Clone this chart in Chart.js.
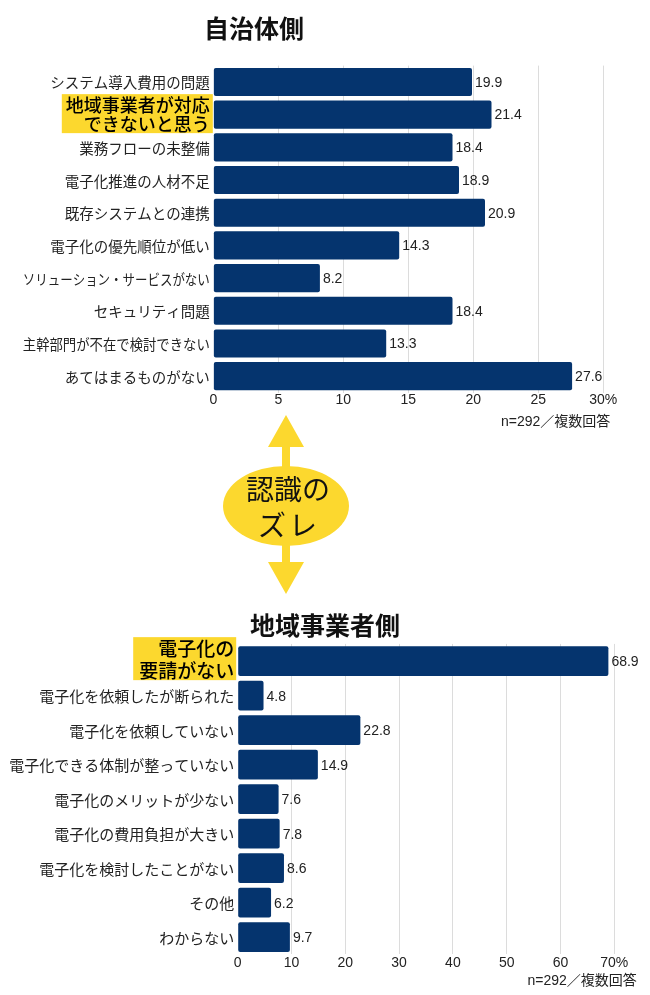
<!DOCTYPE html>
<html lang="ja">
<head>
<meta charset="utf-8">
<script src="https://cdn.jsdelivr.net/npm/chart.js@4.4.1/dist/chart.umd.min.js"></script>
<style>
  html, body { margin: 0; padding: 0; background: #fff; }
  body { width: 650px; height: 995px; position: relative; overflow: hidden; }
  .box { position: absolute; left: 0; width: 650px; }
  #topBox { top: 0; height: 430px; }
  #bottomBox { top: 600px; height: 395px; }
  #gap { position: absolute; left: 0; top: 400px; }
</style>
</head>
<body>
<div class="box" id="topBox"><canvas id="chartTop"></canvas></div>
<div class="box" id="bottomBox"><canvas id="chartBottom"></canvas></div>
<svg id="gap" width="650" height="200" viewBox="0 0 650 200">
  <g fill="#fcd82e">
    <polygon points="286,15 268,47 304,47"/>
    <rect x="282" y="46" width="8" height="26"/>
    <ellipse cx="286" cy="106" rx="63" ry="40"/>
    <rect x="282" y="140" width="8" height="23"/>
    <polygon points="268,162 304,162 286,194"/>
  </g>
  <g font-family="'Noto Sans CJK JP', sans-serif" font-size="28" font-weight="400" fill="#111" text-anchor="middle">
    <text x="288" y="100">認識の</text>
    <text x="289" y="136" letter-spacing="3">ズレ</text>
  </g>
</svg>
<script>
const JP = '"Noto Sans CJK JP", sans-serif';
const NUM = '"Liberation Sans", Arial, "Noto Sans CJK JP", sans-serif';
const BAR_COLOR = '#05346e';
const HILITE = '#fcd82e';

// 自治体側
const topLabels = [
  "システム導入費用の問題",
  ["地域事業者が対応", "できないと思う"],
  "業務フローの未整備",
  "電子化推進の人材不足",
  "既存システムとの連携",
  "電子化の優先順位が低い",
  "ソリューション・サービスがない",
  "セキュリティ問題",
  "主幹部門が不在で検討できない",
  "あてはまるものがない"
];
const topValues = [19.9, 21.4, 18.4, 18.9, 20.9, 14.3, 8.2, 18.4, 13.3, 27.6];
const topMax = 30;
const topStep = 5;

// 地域事業者側
const bottomLabels = [
  ["電子化の", "要請がない"],
  "電子化を依頼したが断られた",
  "電子化を依頼していない",
  "電子化できる体制が整っていない",
  "電子化のメリットが少ない",
  "電子化の費用負担が大きい",
  "電子化を検討したことがない",
  "その他",
  "わからない"
];
const bottomValues = [68.9, 4.8, 22.8, 14.9, 7.6, 7.8, 8.6, 6.2, 9.7];
const bottomMax = 70;
const bottomStep = 10;

const noteText = "n=292／複数回答";

const valueLabels = {
  id: 'valueLabels',
  afterDatasetsDraw(chart) {
    const ctx = chart.ctx;
    const meta = chart.getDatasetMeta(0);
    const data = chart.data.datasets[0].data;
    ctx.save();
    ctx.font = '14px ' + NUM;
    ctx.fillStyle = '#222';
    ctx.textBaseline = 'middle';
    ctx.textAlign = 'left';
    meta.data.forEach((bar, i) => {
      ctx.fillText(data[i].toFixed(1), bar.x + 3, bar.y + 1);
    });
    ctx.restore();
  }
};

// category labels drawn at the y scale's pixel for each category
const categoryLabels = {
  id: 'categoryLabels',
  afterDraw(chart, args, opts) {
    const ctx = chart.ctx;
    const yScale = chart.scales.y;
    const x = yScale.right - opts.gap;
    ctx.save();
    ctx.textAlign = 'right';
    ctx.textBaseline = 'middle';
    chart.data.labels.forEach((label, i) => {
      const y = yScale.getPixelForValue(i);
      if (i === opts.highlight) {
        const lines = [].concat(label);
        ctx.font = '500 ' + opts.hiSize + 'px ' + JP;
        const w = Math.max(...lines.map((s) => ctx.measureText(s).width));
        const h = lines.length * opts.hiLine;
        const top = y - h / 2 + opts.hiShift;
        ctx.fillStyle = HILITE;
        ctx.fillRect(x - w - opts.hiPadL, top, w + opts.hiPadL + opts.hiPadR, h);
        ctx.fillStyle = '#000';
        lines.forEach((s, k) => ctx.fillText(s, x, top + opts.hiLine * (k + 0.5) + 1));
      } else {
        ctx.font = opts.size + 'px ' + JP;
        ctx.fillStyle = '#222';
        ctx.fillText(label, x, y + 1, opts.maxWidth);
      }
    });
    ctx.restore();
  }
};

const headings = {
  id: 'headings',
  afterDraw(chart, args, opts) {
    const ctx = chart.ctx;
    ctx.save();
    ctx.fillStyle = '#111';
    ctx.textBaseline = 'middle';
    ctx.textAlign = 'center';
    ctx.font = 'bold 25px ' + JP;
    ctx.fillText(opts.title, opts.titleX, opts.titleY);
    ctx.textAlign = 'right';
    ctx.fillStyle = '#222';
    ctx.font = '14px ' + NUM;
    ctx.fillText(opts.note, chart.chartArea.right + opts.noteDx, opts.noteY);
    ctx.restore();
  }
};

function makeChart(id, labels, values, cfg) {
  return new Chart(document.getElementById(id), {
    type: 'bar',
    data: {
      labels: labels,
      datasets: [{
        data: values,
        backgroundColor: BAR_COLOR,
        borderRadius: 2,
        borderSkipped: false,
        categoryPercentage: 1,
        barPercentage: cfg.barPct
      }]
    },
    options: {
      indexAxis: 'y',
      responsive: true,
      maintainAspectRatio: false,
      animation: false,
      events: [],
      layout: { padding: { top: cfg.padTop, right: cfg.padRight, bottom: 0, left: 0 } },
      plugins: {
        legend: { display: false },
        tooltip: { enabled: false },
        headings: {
          title: cfg.title, titleX: cfg.titleX, titleY: cfg.titleY,
          note: noteText, noteDx: cfg.noteDx, noteY: cfg.noteY
        },
        categoryLabels: cfg.labels
      },
      scales: {
        x: {
          min: 0,
          max: cfg.max,
          afterFit: (scale) => { scale.height = cfg.xHeight; },
          grid: {
            drawTicks: false,
            color: (c) => (c.tick && c.tick.value === 0) ? 'rgba(0,0,0,0)' : '#dcdcdc',
            lineWidth: 1
          },
          border: { display: false },
          ticks: {
            stepSize: cfg.step,
            padding: cfg.xPad,
            color: '#222',
            font: { family: NUM, size: 14, lineHeight: 1 },
            callback: (v) => v === cfg.max ? v + '%' : v
          }
        },
        y: {
          afterFit: (scale) => { scale.width = cfg.yWidth; },
          grid: { display: false, drawTicks: false },
          border: { display: false },
          ticks: { display: false }
        }
      }
    },
    plugins: [valueLabels, categoryLabels, headings]
  });
}

makeChart('chartTop', topLabels, topValues, {
  labels: { highlight: 1, gap: 3.5, size: 14.5, maxWidth: 187,
            hiSize: 18, hiLine: 19.5, hiShift: -1, hiPadL: 4, hiPadR: 3 },
  max: topMax, step: topStep,
  barPct: 0.86,
  padTop: 65.6, padRight: 46.7,
  yWidth: 213.3, xHeight: 37.5, xPad: 1,
  title: '自治体側', titleX: 254, titleY: 28,
  noteDx: 7, noteY: 422
});

makeChart('chartBottom', bottomLabels, bottomValues, {
  labels: { highlight: 0, gap: 3.5, size: 15, maxWidth: 228,
            hiSize: 19, hiLine: 21.5, hiShift: -2.5, hiPadL: 6, hiPadR: 2 },
  max: bottomMax, step: bottomStep,
  barPct: 0.86,
  padTop: 43.9, padRight: 35.7,
  yWidth: 237.7, xHeight: 40.6, xPad: 2,
  title: '地域事業者側', titleX: 325, titleY: 25,
  noteDx: 22.5, noteY: 381
});
</script>
</body>
</html>
